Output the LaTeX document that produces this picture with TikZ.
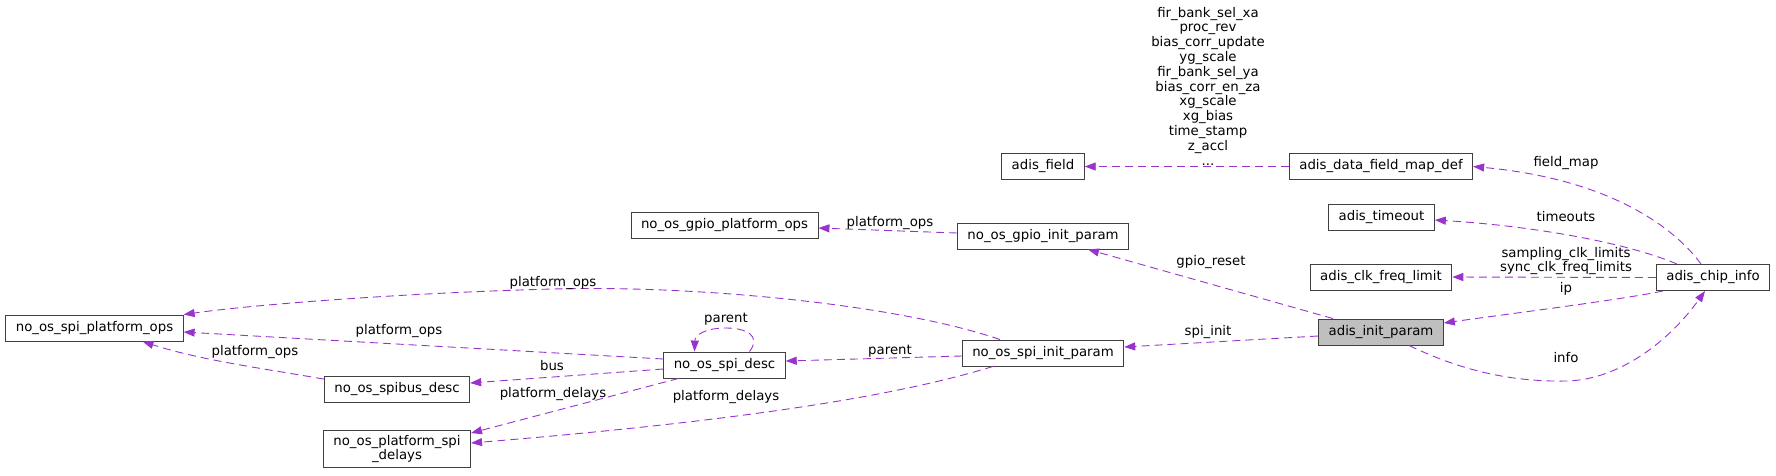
\documentclass[tikz,border=0pt]{standalone}
\usepackage{fontspec}
\setmainfont{DejaVu Sans}
\usepackage{tikz}
\usetikzlibrary{arrows.meta,positioning}
\definecolor{edgeorchid}{RGB}{154,50,205}
\definecolor{focusgray}{RGB}{191,191,191}
\newcommand\dfont{\fontsize{13.3}{14.8}\selectfont}

\begin{document}
\begin{tikzpicture}[x=1pt, y=-1pt, >={Triangle[length=11pt,width=8pt]},
    cls/.style={draw=black!75, line width=0.9pt, fill=white, inner xsep=10pt, inner ysep=4.5pt, minimum height=26pt, align=center, font=\dfont},
    use/.style={->, draw=edgeorchid, line width=0.9pt, dash pattern=on 8pt off 5pt},
    lbl/.style={inner sep=0pt, align=center, font=\dfont}]
        \useasboundingbox (0,0) rectangle (1776,475);

        % Structures
        \node[cls] (spiplat) at (94.5,328) {no\_os\_spi\_platform\_ops};
        \node[cls] (spibus) at (397,389.5) {no\_os\_spibus\_desc};
        \node[cls] (delays) at (397,449) {no\_os\_platform\_spi\\\_delays};
        \node[cls] (spidesc) at (724.5,365) {no\_os\_spi\_desc};
        \node[cls] (gpioplat) at (724.5,225.5) {no\_os\_gpio\_platform\_ops};
        \node[cls] (gpioinit) at (1043,236) {no\_os\_gpio\_init\_param};
        \node[cls] (spiinit) at (1043,353) {no\_os\_spi\_init\_param};
        \node[cls] (field) at (1043,166.5) {adis\_field};
        \node[cls] (fieldmap) at (1381,166.5) {adis\_data\_field\_map\_def};
        \node[cls] (timeout) at (1381.5,217) {adis\_timeout};
        \node[cls] (clk) at (1381,277) {adis\_clk\_freq\_limit};
        \node[cls, fill=focusgray] (initparam) at (1381,332) {adis\_init\_param};
        \node[cls] (chip) at (1713,277.5) {adis\_chip\_info};

        % Members of adis_chip_info
        \draw[use] (fieldmap.west) -- (field.east);
        \draw[use] ([xshift=-12pt]chip.north) .. controls (1680,235) and (1620,180) .. (fieldmap.east);
        \draw[use] ([xshift=-36pt]chip.north) .. controls (1620,240) and (1520,225) .. ([yshift=-3pt]timeout.east);
        \draw[use] (chip.west) -- (clk.east);
        \draw[use] ([xshift=-50pt]chip.south) .. controls (1620,300) and (1500,315) .. ([yshift=9pt]initparam.east);

        % Members of adis_init_param
        \draw[use] ([xshift=28pt]initparam.south) .. controls (1460,370) and (1510,382) .. (1566,381)
            .. controls (1620,380) and (1670,340) .. ([xshift=-8pt]chip.south);
        \draw[use] ([xshift=-48pt]initparam.north) -- ([xshift=45pt]gpioinit.south);
        \draw[use] ([yshift=-4pt]initparam.west) -- ([yshift=6pt]spiinit.east);

        % Members of the no_os types
        \draw[use] ([yshift=3pt]gpioinit.west) -- ([yshift=-2.5pt]gpioplat.east);
        \draw[use] ([xshift=-43pt]spiinit.north) .. controls (900,305) and (700,285) .. (553,289)
            .. controls (400,293) and (250,305) .. (spiplat.north east);
        \draw[use] ([yshift=-3pt]spiinit.west) -- ([yshift=4pt]spidesc.east);
        \draw[use] ([xshift=-50pt]spiinit.south) .. controls (900,395) and (750,420) .. ([yshift=6pt]delays.east);
        \draw[use] ([xshift=25pt]spidesc.north) .. controls (762,335) and (745,328) .. (726,328)
            .. controls (705,328) and (695,335) .. ([xshift=-30pt]spidesc.north);
        \draw[use] ([yshift=6pt]spidesc.west) -- ([yshift=-4pt]spiplat.east);
        \draw[use] ([yshift=-4pt]spidesc.west) -- ([yshift=6.5pt]spibus.east);
        \draw[use] ([xshift=-46pt]spidesc.south) -- ([yshift=-3pt]delays.north east);
        \draw[use] ([yshift=-3pt]spibus.north west) .. controls (260,368) and (200,360) .. ([xshift=48pt]spiplat.south);

        % Edge labels
        \node[lbl] (lfields) at (1208,86) {fir\_bank\_sel\_xa\\proc\_rev\\bias\_corr\_update\\yg\_scale\\fir\_bank\_sel\_ya\\bias\_corr\_en\_za\\xg\_scale\\xg\_bias\\time\_stamp\\z\_accl\\...};
        \node[lbl] (lfieldmap) at (1566,163) {field\_map};
        \node[lbl] (ltimeouts) at (1566,217) {timeouts};
        \node[lbl] (lclk) at (1566,261) {sampling\_clk\_limits\\sync\_clk\_freq\_limits};
        \node[lbl] (lip) at (1566,289) {ip};
        \node[lbl] (linfo) at (1566,358) {info};
        \node[lbl] (lgpio) at (1211,262) {gpio\_reset};
        \node[lbl] (lspi) at (1208,332) {spi\_init};
        \node[lbl] (lgpioops) at (890,223) {platform\_ops};
        \node[lbl] (lspiops) at (553,283) {platform\_ops};
        \node[lbl] (lparent) at (890,351) {parent};
        \node[lbl] (linitdelays) at (726,397) {platform\_delays};
        \node[lbl] (lself) at (726,319) {parent};
        \node[lbl] (ldescops) at (399,331) {platform\_ops};
        \node[lbl] (lbus) at (552,366) {bus};
        \node[lbl] (ldescdelays) at (553,394) {platform\_delays};
        \node[lbl] (lbusops) at (255,352) {platform\_ops};
    \end{tikzpicture}
\end{document}
